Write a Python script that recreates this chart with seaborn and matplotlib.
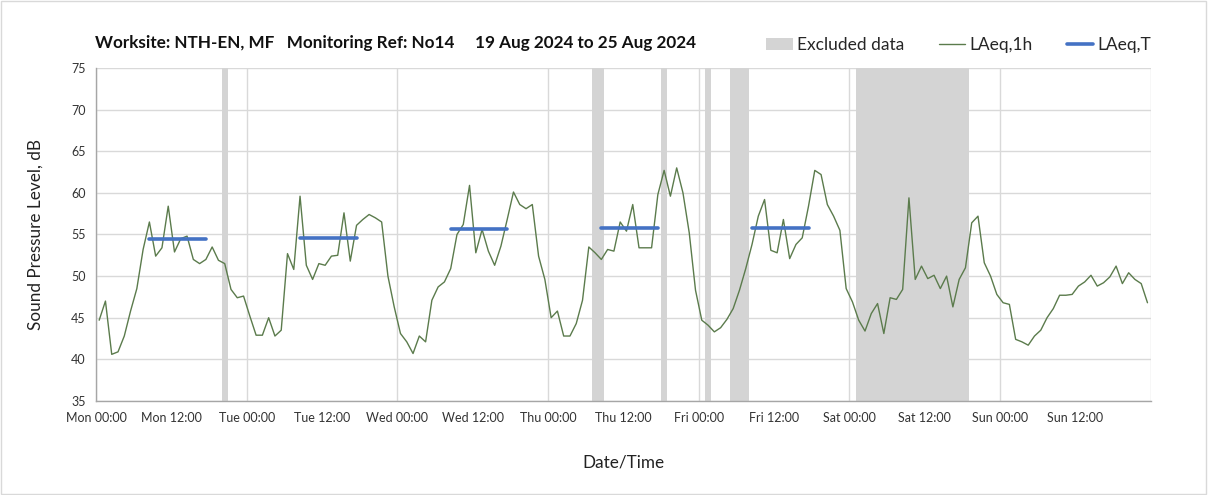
import numpy as np
import pandas as pd
import seaborn as sns
import matplotlib.pyplot as plt
from matplotlib.patches import Patch
from matplotlib.lines import Line2D

# hourly LAeq,1h values, Mon 19 Aug 2024 00:00 -> Sun 25 Aug 2024 24:00
laeq_1h = [
    44.7, 47.0, 40.6, 40.9, 42.8, 45.8, 48.5, 53.2, 56.5, 52.4, 53.4, 58.4,
    52.9, 54.5, 54.8, 52.0, 51.5, 52.0, 53.5, 51.9, 51.5, 48.4, 47.4, 47.6,
    45.2, 42.9, 42.9, 45.0, 42.8, 43.5, 52.7, 50.8, 59.6, 51.3, 49.6, 51.5,
    51.3, 52.4, 52.5, 57.6, 51.8, 56.1, 56.8, 57.4, 57.0, 56.5, 50.0, 46.3,
    43.1, 42.1, 40.7, 42.8, 42.1, 47.1, 48.7, 49.3, 50.9, 55.0, 56.2, 60.9,
    52.8, 55.6, 53.0, 51.3, 53.6, 56.8, 60.1, 58.6, 58.1, 58.6, 52.4, 49.6,
    45.0, 45.8, 42.8, 42.8, 44.3, 47.1, 53.5, 52.8, 52.0, 53.2, 53.0, 56.5,
    55.4, 58.6, 53.4, 53.4, 53.4, 59.8, 62.7, 59.6, 63.0, 60.0, 55.2, 48.3,
    44.7, 44.1, 43.3, 43.8, 44.8, 46.1, 48.3, 50.9, 53.8, 57.2, 59.2, 53.1,
    52.8, 56.8, 52.1, 53.8, 54.6, 58.4, 62.7, 62.2, 58.6, 57.2, 55.5, 48.5,
    46.9, 44.7, 43.4, 45.5, 46.7, 43.1, 47.4, 47.2, 48.4, 59.4, 49.6, 51.2,
    49.7, 50.1, 48.5, 50.0, 46.3, 49.6, 51.0, 56.4, 57.2, 51.6, 50.0, 47.8,
    46.8, 46.6, 42.4, 42.1, 41.7, 42.8, 43.5, 45.0, 46.1, 47.7, 47.7, 47.8,
    48.8, 49.3, 50.1, 48.8, 49.2, 49.9, 51.2, 49.1, 50.4, 49.6, 49.1, 46.8,
]

# daytime LAeq,T periods
laeq_t_start = ["2024-08-19 08:30", "2024-08-20 08:30", "2024-08-21 08:30",
                "2024-08-22 08:30", "2024-08-23 08:30"]
laeq_t_end = ["2024-08-19 17:30", "2024-08-20 17:30", "2024-08-21 17:30",
              "2024-08-22 17:30", "2024-08-23 17:30"]
laeq_t = [54.5, 54.6, 55.7, 55.8, 55.8]

# excluded data periods
excl_start = ["2024-08-19 20:00", "2024-08-22 07:00", "2024-08-22 18:00",
              "2024-08-23 01:00", "2024-08-23 05:00", "2024-08-24 01:00"]
excl_end = ["2024-08-19 21:00", "2024-08-22 09:00", "2024-08-22 19:00",
            "2024-08-23 02:00", "2024-08-23 08:00", "2024-08-24 19:00"]

tick_labels = ["Mon 00:00", "Mon 12:00", "Tue 00:00", "Tue 12:00", "Wed 00:00",
               "Wed 12:00", "Thu 00:00", "Thu 12:00", "Fri 00:00", "Fri 12:00",
               "Sat 00:00", "Sat 12:00", "Sun 00:00", "Sun 12:00"]

df = pd.DataFrame({
    "time": pd.date_range("2024-08-19 00:30", periods=len(laeq_1h), freq="h"),
    "LAeq,1h": laeq_1h,
})

rows = []
for i, (s, e, v) in enumerate(zip(laeq_t_start, laeq_t_end, laeq_t)):
    rows.append({"time": pd.Timestamp(s), "LAeq,T": v, "day": i})
    rows.append({"time": pd.Timestamp(e), "LAeq,T": v, "day": i})
df_t = pd.DataFrame(rows)

sns.set_style("white")
plt.rcParams["font.family"] = ["Lato", "DejaVu Sans"]

green = "#5b7b4c"
blue = "#4472c4"
grey = "#d4d4d4"

fig = plt.figure(figsize=(12.08, 4.95), dpi=100)
ax = fig.add_axes([0.0795, 0.19, 0.873, 0.6726])

for s, e in zip(excl_start, excl_end):
    ax.axvspan(pd.Timestamp(s), pd.Timestamp(e), color=grey, lw=0, zorder=1)

sns.lineplot(data=df, x="time", y="LAeq,1h", ax=ax, color=green, lw=1.0, zorder=3)
sns.lineplot(data=df_t, x="time", y="LAeq,T", units="day", estimator=None,
             ax=ax, color=blue, lw=2.6, zorder=4)

x0 = pd.Timestamp("2024-08-19 00:00")
x1 = pd.Timestamp("2024-08-26 00:00")
ax.set_xlim(x0, x1)
ax.set_ylim(35, 75)
ax.set_yticks(range(35, 80, 5))

ticks = pd.date_range(x0, periods=len(tick_labels), freq="12h")
ax.set_xticks(ticks)
ax.set_xticklabels(tick_labels, fontsize=9, color="#333333")
ax.tick_params(axis="y", labelsize=9, colors="#333333")
ax.tick_params(axis="both", direction="out", length=4, width=0.8, color="#999999")
ax.tick_params(axis="x", pad=4)

ax.set_axisbelow(True)
ax.grid(axis="y", color="#d9d9d9", lw=1.0)
for d in pd.date_range(x0, x1, freq="24h"):
    ax.axvline(d, color="#d9d9d9", lw=1.0, zorder=0)

for side in ["top", "right"]:
    ax.spines[side].set_visible(False)
for side in ["left", "bottom"]:
    ax.spines[side].set_color("#a6a6a6")
    ax.spines[side].set_linewidth(1.0)

ax.set_xlabel("Date/Time", fontsize=12.3, color="#222222", labelpad=22)
ax.set_ylabel("Sound Pressure Level, dB", fontsize=12.3, color="#222222", labelpad=20)

fig.text(0.079, 0.913, "Worksite: NTH-EN, MF   Monitoring Ref: No14     19 Aug 2024 to 25 Aug 2024",
         fontsize=12.3, fontweight="bold", ha="left", va="center", color="#111111")

handles = [
    Patch(facecolor=grey, edgecolor="none"),
    Line2D([0], [0], color=green, lw=1.0),
    Line2D([0], [0], color=blue, lw=2.6),
]
fig.legend(handles, ["Excluded data", "LAeq,1h", "LAeq,T"], ncol=3, frameon=False,
           loc="center right", bbox_to_anchor=(0.966, 0.909), fontsize=12.5,
           handlelength=1.5, handletextpad=0.25, columnspacing=2.0)

fig.patches.append(plt.Rectangle((0.001, 0.002), 0.997, 0.996, transform=fig.transFigure,
                                 fill=False, edgecolor="#d9d9d9", lw=1.0))

fig.savefig("out.png", dpi=100)
